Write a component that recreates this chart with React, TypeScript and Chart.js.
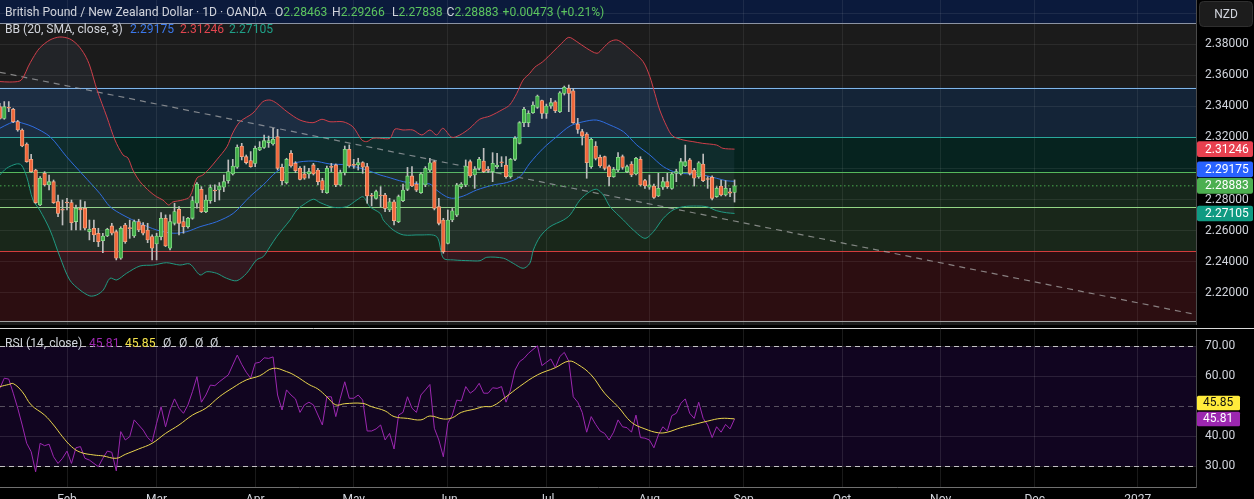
import React, { useEffect, useRef } from "react";
import { Chart, registerables } from "chart.js";

Chart.register(...registerables);

// ---------------- DATA ----------------
const opens = [
  2.3398, 2.3323, 2.3390, 2.3381, 2.3302, 2.3248, 2.3158, 2.3059, 2.2990, 2.2765,
  2.2969, 2.2894, 2.2915, 2.2787, 2.2735, 2.2782, 2.2780, 2.2658, 2.2744, 2.2744,
  2.2593, 2.2615, 2.2583, 2.2535, 2.2565, 2.2630, 2.2593, 2.2422, 2.2636, 2.2617,
  2.2565, 2.2658, 2.2636, 2.2604, 2.2561, 2.2514, 2.2561, 2.2679, 2.2486, 2.2647,
  2.2737, 2.2658, 2.2625, 2.2679, 2.2776, 2.2866, 2.2722, 2.2793, 2.2857, 2.2862,
  2.2879, 2.2922, 2.2965, 2.3008, 2.3145, 2.3076, 2.3051, 2.3033, 2.3119, 2.3136,
  2.3167, 2.3158, 2.3205, 2.3008, 2.2909, 2.3098, 2.3033, 2.3001, 2.2965, 2.2965,
  2.3023, 2.2990, 2.2922, 2.2844, 2.3010, 2.3023, 2.2894, 2.2973, 2.3124, 2.3023,
  2.3023, 2.3038, 2.3012, 2.2825, 2.2808, 2.2829, 2.2829, 2.2733, 2.2786, 2.2657,
  2.2793, 2.2866, 2.2952, 2.2900, 2.2844, 2.2894, 2.2990, 2.3044, 2.2754, 2.2668,
  2.2518, 2.2668, 2.2700, 2.2883, 2.2894, 2.3044, 2.2958, 2.3001, 2.3048, 2.2992,
  2.2980, 2.3012, 2.3038, 2.3022, 2.2947, 2.3059, 2.3162, 2.3295, 2.3295, 2.3360,
  2.3394, 2.3437, 2.3355, 2.3402, 2.3430, 2.3366, 2.3484, 2.3516, 2.3501, 2.3287,
  2.3237, 2.3222, 2.3012, 2.3145, 2.3072, 2.3076, 2.3012, 2.2947, 2.2990, 2.3076,
  2.2980, 2.3029, 2.2965, 2.3059, 2.2922, 2.2879, 2.2887, 2.2823, 2.2879, 2.2915,
  2.2872, 2.2969, 2.2965, 2.3016, 2.3055, 2.2990, 2.2947, 2.3029, 2.2931, 2.2943,
  2.2819, 2.2887, 2.2829, 2.2849, 2.28463,
];
const highs = [
  2.3420, 2.3431, 2.3431, 2.3388, 2.3310, 2.3255, 2.3165, 2.3091, 2.2995, 2.2948,
  2.2980, 2.2958, 2.2926, 2.2829, 2.2797, 2.2808, 2.2797, 2.2765, 2.2797, 2.2787,
  2.2668, 2.2668, 2.2615, 2.2583, 2.2615, 2.2647, 2.2604, 2.2625, 2.2647, 2.2668,
  2.2668, 2.2673, 2.2651, 2.2647, 2.2572, 2.2583, 2.2716, 2.2701, 2.2701, 2.2776,
  2.2754, 2.2690, 2.2686, 2.2819, 2.2909, 2.2883, 2.2829, 2.2894, 2.2894, 2.2909,
  2.2958, 2.3055, 2.3059, 2.3152, 2.3162, 2.3087, 2.3109, 2.3145, 2.3173, 2.3216,
  2.3209, 2.3259, 2.3252, 2.3029, 2.3066, 2.3115, 2.3044, 2.3012, 2.3016, 2.3001,
  2.3033, 2.3001, 2.2937, 2.3016, 2.3033, 2.3029, 2.2990, 2.3145, 2.3152, 2.3059,
  2.3066, 2.3044, 2.3033, 2.2840, 2.2861, 2.2883, 2.2840, 2.2808, 2.2797, 2.2829,
  2.2900, 2.3007, 2.3012, 2.2915, 2.2973, 2.3012, 2.3065, 2.3050, 2.2808, 2.2679,
  2.2733, 2.2743, 2.2904, 2.2909, 2.3055, 2.3055, 2.3012, 2.3072, 2.3130, 2.3012,
  2.3102, 2.3098, 2.3076, 2.3076, 2.3065, 2.3205, 2.3302, 2.3394, 2.3372, 2.3430,
  2.3473, 2.3441, 2.3415, 2.3452, 2.3437, 2.3495, 2.3531, 2.3538, 2.3516, 2.3323,
  2.3252, 2.3231, 2.3194, 2.3173, 2.3087, 2.3080, 2.3022, 2.3007, 2.3102, 2.3087,
  2.3022, 2.3044, 2.3072, 2.3076, 2.2930, 2.2958, 2.2900, 2.2969, 2.2943, 2.2969,
  2.2973, 2.2995, 2.3065, 2.3151, 2.3065, 2.3001, 2.3044, 2.3093, 2.2947, 2.2952,
  2.2883, 2.2926, 2.2922, 2.2872, 2.29266,
];
const lows = [
  2.3317, 2.3317, 2.3366, 2.3295, 2.3240, 2.3140, 2.3040, 2.2975, 2.2775, 2.2760,
  2.2887, 2.2862, 2.2775, 2.2690, 2.2636, 2.2733, 2.2604, 2.2604, 2.2604, 2.2604,
  2.2540, 2.2529, 2.2497, 2.2458, 2.2561, 2.2572, 2.2411, 2.2415, 2.2518, 2.2550,
  2.2556, 2.2593, 2.2572, 2.2522, 2.2411, 2.2411, 2.2540, 2.2497, 2.2475, 2.2636,
  2.2572, 2.2583, 2.2615, 2.2673, 2.2744, 2.2716, 2.2716, 2.2776, 2.2787, 2.2797,
  2.2851, 2.2905, 2.2958, 2.3001, 2.3055, 2.3029, 2.3008, 2.3012, 2.3115, 2.3130,
  2.3136, 2.3151, 2.2990, 2.2894, 2.2900, 2.3008, 2.2973, 2.2926, 2.2930, 2.2937,
  2.2958, 2.2894, 2.2844, 2.2840, 2.2980, 2.2883, 2.2887, 2.2958, 2.3008, 2.3001,
  2.2990, 2.2969, 2.2776, 2.2759, 2.2803, 2.2754, 2.2722, 2.2722, 2.2636, 2.2651,
  2.2786, 2.2857, 2.2883, 2.2851, 2.2840, 2.2883, 2.2980, 2.2733, 2.2636, 2.2454,
  2.2514, 2.2657, 2.2690, 2.2872, 2.2883, 2.2943, 2.2872, 2.2990, 2.2973, 2.2973,
  2.2915, 2.3001, 2.3012, 2.2937, 2.2937, 2.3050, 2.3158, 2.3269, 2.3269, 2.3355,
  2.3387, 2.3323, 2.3323, 2.3387, 2.3360, 2.3360, 2.3473, 2.3366, 2.3291, 2.3226,
  2.3151, 2.2937, 2.3001, 2.3055, 2.3007, 2.2990, 2.2887, 2.2943, 2.2980, 2.2995,
  2.2973, 2.2947, 2.2958, 2.2887, 2.2872, 2.2866, 2.2808, 2.2819, 2.2866, 2.2872,
  2.2866, 2.2915, 2.2958, 2.3012, 2.2958, 2.2887, 2.2937, 2.2915, 2.2872, 2.2797,
  2.2814, 2.2823, 2.2823, 2.2819, 2.27838,
];
const closes = [
  2.3323, 2.3398, 2.3388, 2.3302, 2.3248, 2.3145, 2.3044, 2.2980, 2.2780, 2.2937,
  2.2894, 2.2915, 2.2780, 2.2711, 2.2731, 2.2778, 2.2651, 2.2744, 2.2733, 2.2615,
  2.2608, 2.2572, 2.2529, 2.2565, 2.2608, 2.2583, 2.2422, 2.2615, 2.2529, 2.2613,
  2.2658, 2.2604, 2.2583, 2.2540, 2.2486, 2.2565, 2.2679, 2.2501, 2.2658, 2.2722,
  2.2647, 2.2625, 2.2679, 2.2793, 2.2900, 2.2722, 2.2797, 2.2877, 2.2855, 2.2887,
  2.2915, 2.2980, 2.3016, 2.3136, 2.3076, 2.3038, 2.3012, 2.3130, 2.3136, 2.3179,
  2.3179, 2.3188, 2.3001, 2.2922, 2.3059, 2.3016, 2.2986, 2.2930, 2.2937, 2.2980,
  2.2965, 2.2915, 2.2862, 2.3001, 2.3007, 2.2894, 2.2973, 2.3124, 2.3016, 2.3020,
  2.3038, 2.3008, 2.2823, 2.2821, 2.2851, 2.2823, 2.2743, 2.2786, 2.2664, 2.2819,
  2.2861, 2.2952, 2.2887, 2.2861, 2.2965, 2.3001, 2.3037, 2.2743, 2.2647, 2.2464,
  2.2668, 2.2728, 2.2894, 2.2900, 2.3016, 2.2952, 2.2995, 2.3059, 2.2980, 2.2988,
  2.3033, 2.3022, 2.3036, 2.2947, 2.3059, 2.3194, 2.3295, 2.3381, 2.3355, 2.3409,
  2.3467, 2.3355, 2.3402, 2.3424, 2.3372, 2.3488, 2.3523, 2.3484, 2.3295, 2.3252,
  2.3209, 2.3037, 2.3188, 2.3065, 2.3016, 2.3001, 2.2947, 2.2995, 2.3072, 2.3007,
  2.3012, 2.2958, 2.3065, 2.2894, 2.2887, 2.2894, 2.2814, 2.2872, 2.2915, 2.2883,
  2.2965, 2.2980, 2.3044, 2.3044, 2.2969, 2.2937, 2.3037, 2.2922, 2.2929, 2.2808,
  2.2872, 2.2829, 2.2872, 2.2841, 2.28883,
];

const bbUpperIdx = [
  0, 2.2, 4.5, 5.4, 6.3, 7.4, 8.9, 11.2, 13.4, 15.6, 17.4, 19.0, 20.1, 21.7, 23.9, 25.7, 27.5, 28.6, 29.7, 31.3,
  33.5, 35.0, 36.4, 37.7, 38.6, 40.8, 42.4, 44.0, 45.3, 46.9, 48.4, 50.7, 52.0, 53.6, 56.5, 58.7, 60.3, 61.8, 64.1, 67.0,
  69.9, 71.9, 73.7, 76.6, 78.8, 80.8, 81.9, 83.3, 84.8, 87.1, 88.2, 90.0, 92.2, 94.2, 96.0, 97.5, 98.9, 100.9, 102.7, 104.9,
  107.1, 109.4, 112.3, 113.8, 115.4, 116.8, 118.3, 119.4, 121.2, 123.5, 125.4, 127.0, 128.8, 131.0, 133.3, 134.6, 136.2, 137.7, 139.1, 141.3,
  143.6, 145.1, 146.2, 147.3, 148.9, 150.2, 152.5, 154.7, 156.9, 160.0, 161.4, 164,
];
const bbUpper = [
  2.3560, 2.3557, 2.3564, 2.3596, 2.3654, 2.3712, 2.3776, 2.3828, 2.3847, 2.3835, 2.3795, 2.3731, 2.3660, 2.3506, 2.3332, 2.3184, 2.3087, 2.3068, 2.2990, 2.2915,
  2.2851, 2.2818, 2.2797, 2.2765, 2.2784, 2.2797, 2.2818, 2.2939, 2.2958, 2.3003, 2.3055, 2.3140, 2.3229, 2.3301, 2.3357, 2.3430, 2.3441, 2.3420, 2.3366, 2.3312,
  2.3295, 2.3317, 2.3301, 2.3301, 2.3269, 2.3184, 2.3173, 2.3195, 2.3195, 2.3195, 2.3254, 2.3248, 2.3248, 2.3216, 2.3248, 2.3216, 2.3259, 2.3201, 2.3216, 2.3259,
  2.3317, 2.3338, 2.3381, 2.3409, 2.3484, 2.3570, 2.3613, 2.3652, 2.3688, 2.3752, 2.3806, 2.3845, 2.3817, 2.3774, 2.3742, 2.3774, 2.3817, 2.3828, 2.3806, 2.3752,
  2.3688, 2.3591, 2.3484, 2.3377, 2.3269, 2.3209, 2.3184, 2.3173, 2.3162, 2.3151, 2.3130, 2.31246,
];
const bbMiddleIdx = [
  0, 2.2, 3.7, 5.2, 7.4, 11.2, 14.9, 18.6, 22.3, 24.6, 27.5, 31.3, 35.0, 38.7, 41.7, 44.7, 48.4, 52.1, 55.8, 58.8,
  61.8, 65.5, 70.0, 73.7, 77.4, 81.9, 84.9, 86.3, 90.1, 93.8, 96.0, 97.5, 99.7, 101.2, 103.5, 106.4, 110.2, 113.1, 116.1, 118.3,
  121.3, 124.3, 127.3, 130.2, 133.2, 136.2, 139.2, 142.2, 145.1, 148.1, 151.1, 154.1, 157.0, 160.0, 162.2, 164,
];
const bbMiddle = [
  2.3259, 2.3291, 2.3301, 2.3291, 2.3269, 2.3205, 2.3076, 2.2958, 2.2840, 2.2754, 2.2700, 2.2647, 2.2604, 2.2583, 2.2593, 2.2625, 2.2657, 2.2711, 2.2818, 2.2894,
  2.2979, 2.3034, 2.3048, 2.3029, 2.3023, 2.2990, 2.2958, 2.2947, 2.2915, 2.2900, 2.2900, 2.2861, 2.2818, 2.2808, 2.2823, 2.2861, 2.2894, 2.2909, 2.2947, 2.3034,
  2.3130, 2.3205, 2.3274, 2.3301, 2.3312, 2.3280, 2.3237, 2.3151, 2.3087, 2.3012, 2.2973, 2.2965, 2.2958, 2.2937, 2.2921, 2.29175,
];
const bbLowerIdx = [
  0, 1.5, 3.7, 4.8, 6.0, 7.4, 8.9, 11.2, 13.4, 15.6, 17.9, 20.1, 21.6, 23.1, 24.6, 26.1, 28.3, 31.3, 34.3, 37.2,
  40.2, 42.4, 44.7, 46.2, 48.4, 50.6, 52.9, 55.1, 57.3, 58.8, 60.3, 61.8, 63.3, 64.8, 66.3, 67.7, 70.0, 71.5, 74.4, 77.4,
  79.7, 81.1, 82.6, 84.9, 85.6, 87.8, 90.1, 93.8, 97.5, 99.0, 101.2, 104.9, 107.2, 108.7, 112.4, 114.6, 116.8, 118.3, 119.1, 120.6,
  122.8, 125.8, 127.3, 129.5, 131.7, 133.2, 134.7, 136.2, 139.2, 141.4, 144.0, 145.9, 148.1, 150.3, 152.6, 155.5, 157.8, 160.0, 162.2, 164,
];
const bbLower = [
  2.2958, 2.3001, 2.3029, 2.3023, 2.2947, 2.2797, 2.2733, 2.2604, 2.2432, 2.2282, 2.2217, 2.2179, 2.2185, 2.2217, 2.2293, 2.2282, 2.2325, 2.2372, 2.2378, 2.2393,
  2.2378, 2.2385, 2.2314, 2.2335, 2.2325, 2.2293, 2.2277, 2.2325, 2.2411, 2.2432, 2.2496, 2.2561, 2.2615, 2.2668, 2.2733, 2.2765, 2.2802, 2.2780, 2.2750, 2.2754,
  2.2797, 2.2818, 2.2754, 2.2711, 2.2668, 2.2604, 2.2572, 2.2572, 2.2561, 2.2422, 2.2411, 2.2406, 2.2406, 2.2428, 2.2422, 2.2389, 2.2357, 2.2389, 2.2475, 2.2561,
  2.2625, 2.2668, 2.2701, 2.2797, 2.2851, 2.2866, 2.2829, 2.2754, 2.2668, 2.2604, 2.2550, 2.2593, 2.2679, 2.2733, 2.2754, 2.2758, 2.2754, 2.2728, 2.2715, 2.27105,
];

const rsiIdx = [
  0, 1, 2, 3, 4, 5, 6, 7, 8, 9, 10, 11, 12, 13, 14, 15, 16, 17, 18, 19,
  20, 22, 23, 24, 25, 26, 27, 28, 29, 30, 31, 32, 33, 34, 35, 36, 37, 38, 39, 40,
  41, 42, 43, 44, 45, 46, 47, 48, 49, 51, 52, 53, 54, 55, 56, 57, 58, 59, 60, 61,
  62, 63, 64, 65, 66, 67, 68, 69, 70, 72, 73, 74, 75, 76, 77, 78, 79, 80, 81, 82,
  83, 84, 85, 86, 87, 88, 89, 90, 91, 92, 93, 94, 95, 96, 97, 98, 99, 100, 101, 102,
  103, 104, 105, 106, 107, 108, 109, 110, 111, 112, 113, 114, 115, 116, 117, 118, 120, 121, 122, 123,
  124, 125, 126, 127, 128, 129, 130, 131, 132, 133, 134, 135, 136, 137, 138, 139, 140, 141, 142, 143,
  144, 145, 146, 147, 148, 149, 150, 151, 152, 153, 154, 155, 156, 157, 158, 159, 160, 161, 162, 163, 164,
];
const rsiValues = [
  56.0, 59.4, 59.1, 54.4, 49.4, 43.8, 37.7, 34.9, 28.2, 37.7, 36.9, 37.4, 33.2, 31.0, 32.7, 35.1, 31.0, 36.2, 36.6, 32.7,
  32.1, 29.9, 32.7, 35.1, 34.7, 28.5, 41.6, 38.8, 39.9, 45.5, 43.8, 42.1, 39.6, 38.2, 44.4, 49.9, 43.2, 48.8, 52.5, 49.4,
  47.7, 50.5, 54.9, 59.9, 51.4, 53.8, 57.1, 56.9, 58.2, 60.5, 63.8, 67.1, 64.0, 61.4, 59.4, 64.4, 64.7, 66.2, 66.0, 66.5,
  53.8, 48.8, 55.5, 53.8, 52.5, 48.0, 50.5, 51.4, 50.5, 43.8, 53.2, 53.2, 46.6, 52.7, 58.2, 52.7, 52.7, 53.8, 52.1, 41.8,
  41.8, 42.5, 43.8, 38.8, 41.0, 35.8, 47.1, 48.0, 53.2, 49.4, 48.0, 53.8, 55.5, 57.3, 42.7, 38.8, 33.2, 44.4, 47.1, 52.1,
  51.8, 56.6, 54.4, 55.5, 57.7, 54.4, 54.4, 56.2, 56.0, 56.6, 51.4, 55.5, 62.1, 64.9, 66.0, 67.7, 70.2, 63.6, 64.7, 65.8,
  62.9, 66.6, 68.0, 65.1, 53.2, 51.4, 48.0, 41.4, 46.6, 44.0, 41.8, 41.0, 38.8, 41.4, 45.5, 43.2, 42.9, 41.4, 47.1, 39.6,
  39.4, 38.8, 36.2, 40.5, 43.2, 41.8, 46.9, 47.7, 51.0, 52.5, 47.7, 46.0, 51.4, 46.0, 43.8, 39.6, 43.2, 41.4, 44.0, 42.5, 45.81,
];
const rsiMaIdx = [
  0, 2, 3, 5, 7, 10, 12, 14, 16, 18, 21, 23, 26, 28, 31, 34, 37, 40, 43, 46,
  49, 52, 55, 58, 61, 64, 66, 69, 71, 73, 75, 77, 81, 83, 86, 88, 91, 94, 96, 99,
  101, 103, 106, 108, 110, 113, 116, 120, 124, 127, 129, 132, 135, 138, 141, 144, 147, 149, 152, 155,
  158, 161, 164,
];
const rsiMa = [
  56.6, 57.3, 57.6, 54.9, 50.5, 47.1, 43.8, 39.9, 36.6, 34.7, 33.8, 33.5, 32.7, 34.0, 35.8, 37.7, 41.0, 43.8, 47.1, 49.4,
  53.2, 56.2, 58.8, 60.2, 62.7, 61.6, 60.2, 57.3, 55.8, 53.2, 50.5, 50.9, 51.0, 49.9, 48.5, 46.6, 46.0, 45.5, 46.8, 45.8,
  46.2, 48.0, 49.1, 49.9, 50.1, 53.2, 56.6, 60.5, 62.9, 65.1, 64.0, 60.5, 54.4, 49.9, 44.7, 42.5, 41.2, 41.4, 42.9, 44.0,
  45.1, 46.0, 45.85,
];

const trendIdx = [0, 267];
const trendValues = [2.362, 2.2059];

const levelPrices = [2.39353, 2.35211, 2.32016, 2.29755, 2.27507, 2.24667, 2.20145];

const priceTicks = [2.22, 2.24, 2.26, 2.28, 2.3, 2.32, 2.34, 2.36, 2.38, 2.4];
const rsiTicks = [30, 40, 60, 70];
const rsiBands = [70, 50, 30];

const monthIdx = [15, 35, 57, 79, 100, 122, 145, 166, 188, 210, 231, 254];
const monthLabels = ["Feb", "Mar", "Apr", "May", "Jun", "Jul", "Aug", "Sep", "Oct", "Nov", "Dec", "2027"];

const titleText = "British Pound / New Zealand Dollar · 1D · OANDA";
const currency = "NZD";

// ---------------- VIEW RANGES & STYLES ----------------
const X_MIN = 0.045;
const X_MAX = 267.0;
const PRICE_MIN = 2.19919;
const PRICE_MAX = 2.40853;
const RSI_MIN = 23.13;
const RSI_MAX = 75.8;

const FONT = 'Roboto, "Noto Sans", "DejaVu Sans", sans-serif';
const TEXT = "#d1d4dc";
const GREEN_TXT = "#5cc45f";
const GRID = "rgba(255,255,255,0.075)";
const AXIS_LINE = "#4a4a4a";
const UP_FILL = "#41ae48";
const UP_EDGE = "#8fe08f";
const DOWN_FILL = "#ef673b";
const DOWN_EDGE = "#f8ae8c";
const WICK = "#bdbdbd";
const BB_UP_C = "#cf3f4a";
const BB_MID_C = "#2f6de0";
const BB_LOW_C = "#1c9a7f";
const BB_FILL = "rgba(130,160,220,0.075)";
const RSI_C = "#9c27b0";
const RSI_MA_C = "#e8d44d";

const zoneFills = ["#0b1a3c", null, "#142437", "#06231f", "#16271b", "#19271a", "#2c0e11"];
const levelColors = ["#8b93a3", "#7fb6ea", "#29a89b", "#56b85c", "#93d685", "#d33c3c", "#a0a0a0"];

const fmt5 = (v: number) => v.toFixed(5);
const fmt2 = (v: number) => v.toFixed(2);
const last = (a: number[]) => a[a.length - 1];

function roundBox(ctx: any, x: number, y: number, w: number, h: number, r: number) {
  ctx.beginPath();
  if (ctx.roundRect) ctx.roundRect(x, y, w, h, r);
  else ctx.rect(x, y, w, h);
}

let headerSize = 13;
function computeHeaderSize(ctx: any) {
  ctx.font = `13px ${FONT}`;
  const w = ctx.measureText(titleText).width;
  headerSize = Math.max(10, Math.min(15, (13 * 262) / w));
}

function drawRuns(ctx: any, runs: any[], y: number) {
  let cursor = 0;
  ctx.textBaseline = "middle";
  ctx.textAlign = "left";
  for (const r of runs) {
    const x = r.x !== undefined ? Math.max(r.x, cursor + 4) : cursor;
    ctx.fillStyle = r.color;
    ctx.fillText(r.text, x, y);
    cursor = x + ctx.measureText(r.text).width;
  }
}

function placeLabels(items: any[], anchorIndex: number, gap: number) {
  const anchor = items[anchorIndex];
  anchor.py = anchor.y;
  const above = items.filter((it, i) => i !== anchorIndex && it.y <= anchor.y).sort((a, b) => b.y - a.y);
  const below = items.filter((it, i) => i !== anchorIndex && it.y > anchor.y).sort((a, b) => a.y - b.y);
  let limit = anchor.py;
  for (const it of above) {
    it.py = Math.min(it.y, limit - gap);
    limit = it.py;
  }
  limit = anchor.py;
  for (const it of below) {
    it.py = Math.max(it.y, limit + gap);
    limit = it.py;
  }
}

// remove Chart.js' automatic label padding so the plot area fills the canvas exactly
const noPadY = (width: number) => (s: any) => {
  s.width = width;
  s.paddingTop = 0;
  s.paddingBottom = 0;
};
const noPadX = (height: number) => (s: any) => {
  s.height = height;
  s.paddingLeft = 0;
  s.paddingRight = 0;
};

const mainDecor = {
  id: "mainDecor",
  beforeDraw(chart: any) {
    const { ctx, chartArea: a } = chart;
    const y = chart.scales.y;
    ctx.save();
    ctx.fillStyle = "#000";
    ctx.fillRect(0, 0, chart.width, chart.height);
    ctx.fillStyle = "#1b1b1b";
    ctx.fillRect(a.left, a.top, a.right - a.left, a.bottom - a.top);
    const edges = [PRICE_MAX, ...levelPrices];
    for (let i = 0; i < zoneFills.length; i++) {
      const f = zoneFills[i];
      if (!f) continue;
      const y1 = y.getPixelForValue(edges[i]);
      const y2 = y.getPixelForValue(edges[i + 1]);
      ctx.fillStyle = f;
      ctx.fillRect(a.left, Math.min(y1, y2), a.right - a.left, Math.abs(y2 - y1));
    }
    ctx.restore();
  },
  beforeDatasetsDraw(chart: any) {
    const { ctx, chartArea: a } = chart;
    const y = chart.scales.y;
    ctx.save();
    ctx.lineWidth = 1;
    levelPrices.forEach((p, i) => {
      const py = Math.round(y.getPixelForValue(p)) + 0.5;
      ctx.strokeStyle = levelColors[i];
      ctx.beginPath();
      ctx.moveTo(a.left, py);
      ctx.lineTo(a.right, py);
      ctx.stroke();
    });
    ctx.restore();
  },
  afterDraw(chart: any) {
    const { ctx, chartArea: a } = chart;
    const y = chart.scales.y;
    ctx.save();
    computeHeaderSize(ctx);
    ctx.font = `${headerSize}px ${FONT}`;
    const n = closes.length;
    const o = opens[n - 1], h = highs[n - 1], l = lows[n - 1], c = closes[n - 1];
    const ch = c - closes[n - 2];
    const pct = (ch / closes[n - 2]) * 100;
    const sign = ch >= 0 ? "+" : "−";
    drawRuns(
      ctx,
      [
        { text: titleText, color: TEXT, x: 5 },
        { text: "O", color: TEXT, x: 275 },
        { text: fmt5(o), color: GREEN_TXT },
        { text: "H", color: TEXT, x: 332 },
        { text: fmt5(h), color: GREEN_TXT },
        { text: "L", color: TEXT, x: 392 },
        { text: fmt5(l), color: GREEN_TXT },
        { text: "C", color: TEXT, x: 446 },
        { text: fmt5(c), color: GREEN_TXT },
        { text: `${sign}${Math.abs(ch).toFixed(5)} (${sign}${Math.abs(pct).toFixed(2)}%)`, color: GREEN_TXT, x: 502 },
      ],
      12.5
    );
    drawRuns(
      ctx,
      [
        { text: "BB (20, SMA, close, 3)", color: TEXT, x: 5 },
        { text: fmt5(last(bbMiddle)), color: "#3b78ec", x: 130 },
        { text: fmt5(last(bbUpper)), color: "#e0454f", x: 180 },
        { text: fmt5(last(bbLower)), color: "#1fa088", x: 229 },
      ],
      29.5
    );

    const items = [
      { v: last(bbUpper), bg: "#e8404f", fg: "#ffffff" },
      { v: last(bbMiddle), bg: "#2962ff", fg: "#ffffff" },
      { v: c, bg: "#4caf50", fg: "#ffffff" },
      { v: last(bbLower), bg: "#0f9a82", fg: "#ffffff" },
    ].map((it) => ({ ...it, y: y.getPixelForValue(it.v), py: 0 }));
    placeLabels(items, 2, 16.5);
    ctx.font = `12px ${FONT}`;
    ctx.textBaseline = "middle";
    ctx.textAlign = "left";
    for (const it of items) {
      ctx.fillStyle = it.bg;
      roundBox(ctx, a.right + 1, it.py - 7.8, 56, 15.6, 2);
      ctx.fill();
      ctx.fillStyle = it.fg;
      ctx.fillText(fmt5(it.v), a.right + 9, it.py + 0.5);
    }

    ctx.fillStyle = "#1c1c1c";
    roundBox(ctx, a.right + 3.5, 1.5, 53, 25, 4);
    ctx.fill();
    ctx.strokeStyle = "#2f2f2f";
    ctx.lineWidth = 1;
    ctx.stroke();
    ctx.fillStyle = TEXT;
    ctx.textAlign = "center";
    ctx.fillText(currency, a.right + 30, 14.5);
    ctx.restore();
  },
};

const rsiDecor = {
  id: "rsiDecor",
  beforeDraw(chart: any) {
    const { ctx, chartArea: a } = chart;
    const y = chart.scales.y;
    ctx.save();
    ctx.fillStyle = "#000";
    ctx.fillRect(0, 0, chart.width, chart.height);
    const y70 = y.getPixelForValue(rsiBands[0]);
    const y30 = y.getPixelForValue(rsiBands[2]);
    ctx.fillStyle = "#110520";
    ctx.fillRect(a.left, y70, a.right - a.left, y30 - y70);
    ctx.strokeStyle = "#d9d9d9";
    ctx.lineWidth = 1;
    ctx.beginPath();
    ctx.moveTo(0, a.top - 0.5);
    ctx.lineTo(chart.width, a.top - 0.5);
    ctx.stroke();
    ctx.restore();
  },
  beforeDatasetsDraw(chart: any) {
    const { ctx, chartArea: a } = chart;
    const y = chart.scales.y;
    ctx.save();
    ctx.lineWidth = 1;
    ctx.setLineDash([5, 4]);
    rsiBands.forEach((v, i) => {
      const py = Math.round(y.getPixelForValue(v)) + 0.5;
      ctx.strokeStyle = i === 1 ? "rgba(170,170,170,0.45)" : "rgba(225,225,225,0.85)";
      ctx.beginPath();
      ctx.moveTo(a.left, py);
      ctx.lineTo(a.right, py);
      ctx.stroke();
    });
    ctx.restore();
  },
  afterDraw(chart: any) {
    const { ctx, chartArea: a } = chart;
    const y = chart.scales.y;
    ctx.save();
    computeHeaderSize(ctx);
    ctx.font = `${headerSize}px ${FONT}`;
    const rv = last(rsiValues);
    const mv = last(rsiMa);
    drawRuns(
      ctx,
      [
        { text: "RSI (14, close)", color: TEXT, x: 5 },
        { text: fmt2(rv), color: RSI_C, x: 89 },
        { text: fmt2(mv), color: "#f2e04a", x: 125 },
        { text: "Ø", color: TEXT, x: 163 },
        { text: "Ø", color: TEXT, x: 179 },
        { text: "Ø", color: TEXT, x: 195 },
        { text: "Ø", color: TEXT, x: 210 },
      ],
      19
    );
    const items = [
      { v: mv, bg: "#ffeb3b", fg: "#111111" },
      { v: rv, bg: "#9c27b0", fg: "#ffffff" },
    ].map((it) => ({ ...it, y: y.getPixelForValue(it.v), py: 0 }));
    placeLabels(items, 1, 16);
    ctx.font = `12px ${FONT}`;
    ctx.textBaseline = "middle";
    ctx.textAlign = "left";
    for (const it of items) {
      ctx.fillStyle = it.bg;
      roundBox(ctx, a.right + 1, it.py - 7.3, 43, 14.6, 1.5);
      ctx.fill();
      ctx.fillStyle = it.fg;
      ctx.fillText(fmt2(it.v), a.right + 7, it.py + 0.5);
    }
    ctx.restore();
  },
};

const pts = (xs: number[], ys: number[]) => xs.map((x, i) => ({ x, y: ys[i] }));

function mainConfig(): any {
  const idx = opens.map((_, i) => i);
  const lastClose = last(closes);
  return {
    type: "line",
    data: {
      datasets: [
        {
          type: "line",
          label: "BB upper",
          data: pts(bbUpperIdx, bbUpper),
          borderColor: BB_UP_C,
          borderWidth: 1,
          pointRadius: 0,
          tension: 0.3,
          fill: { target: 2, above: BB_FILL, below: BB_FILL },
          order: 5,
        },
        {
          type: "line",
          label: "BB basis",
          data: pts(bbMiddleIdx, bbMiddle),
          borderColor: BB_MID_C,
          borderWidth: 1,
          pointRadius: 0,
          tension: 0.3,
          fill: false,
          order: 4,
        },
        {
          type: "line",
          label: "BB lower",
          data: pts(bbLowerIdx, bbLower),
          borderColor: BB_LOW_C,
          borderWidth: 1,
          pointRadius: 0,
          tension: 0.3,
          fill: false,
          order: 5,
        },
        {
          type: "line",
          label: "Trend",
          data: pts(trendIdx, trendValues),
          borderColor: "rgba(175,175,175,0.7)",
          borderWidth: 1.2,
          borderDash: [6, 5],
          pointRadius: 0,
          fill: false,
          order: 6,
        },
        {
          type: "line",
          label: "Last",
          data: [
            { x: X_MIN, y: lastClose },
            { x: X_MAX, y: lastClose },
          ],
          borderColor: "rgba(80,185,85,0.9)",
          borderWidth: 1,
          borderDash: [1.5, 2.5],
          pointRadius: 0,
          fill: false,
          order: 3,
        },
        {
          type: "bar",
          label: "Wicks",
          data: idx.map((i) => ({ x: i, y: [lows[i], highs[i]] })),
          backgroundColor: WICK,
          barThickness: 1,
          grouped: false,
          order: 1,
        },
        {
          type: "bar",
          label: "Bodies",
          data: idx.map((i) => ({ x: i, y: [opens[i], closes[i]] })),
          backgroundColor: (c: any) => (closes[c.dataIndex] >= opens[c.dataIndex] ? UP_FILL : DOWN_FILL),
          borderColor: (c: any) => (closes[c.dataIndex] >= opens[c.dataIndex] ? UP_EDGE : DOWN_EDGE),
          borderWidth: 0.8,
          borderSkipped: false,
          barThickness: 3.6,
          minBarLength: 1,
          grouped: false,
          order: 0,
        },
      ],
    },
    options: {
      responsive: false,
      animation: false,
      events: [],
      layout: { padding: 0 },
      plugins: { legend: { display: false }, tooltip: { enabled: false } },
      scales: {
        x: {
          type: "linear",
          position: "bottom",
          offset: false,
          min: X_MIN,
          max: X_MAX,
          afterBuildTicks: (s: any) => {
            s.ticks = monthIdx.map((v) => ({ value: v }));
          },
          afterFit: noPadX(0),
          ticks: { display: false },
          grid: { color: GRID, drawTicks: false, offset: false },
          border: { display: false },
        },
        y: {
          type: "linear",
          position: "right",
          min: PRICE_MIN,
          max: PRICE_MAX,
          afterBuildTicks: (s: any) => {
            s.ticks = priceTicks.map((v) => ({ value: v }));
          },
          afterFit: noPadY(58),
          ticks: {
            color: TEXT,
            font: { family: FONT, size: 12 },
            padding: 9,
            callback: (v: any) => Number(v).toFixed(5),
          },
          grid: { color: GRID, drawTicks: false },
          border: { display: true, color: AXIS_LINE },
        },
      },
    },
    plugins: [mainDecor],
  };
}

function rsiConfig(): any {
  return {
    type: "line",
    data: {
      datasets: [
        {
          label: "RSI",
          data: pts(rsiIdx, rsiValues),
          borderColor: RSI_C,
          borderWidth: 1,
          pointRadius: 0,
          tension: 0,
          fill: false,
          order: 2,
        },
        {
          label: "RSI MA",
          data: pts(rsiMaIdx, rsiMa),
          borderColor: RSI_MA_C,
          borderWidth: 1,
          pointRadius: 0,
          tension: 0.4,
          fill: false,
          order: 1,
        },
      ],
    },
    options: {
      responsive: false,
      animation: false,
      events: [],
      layout: { padding: { top: 4, left: 0, right: 0, bottom: 0 } },
      plugins: { legend: { display: false }, tooltip: { enabled: false } },
      scales: {
        x: {
          type: "linear",
          position: "bottom",
          offset: false,
          min: X_MIN,
          max: X_MAX,
          afterBuildTicks: (s: any) => {
            s.ticks = monthIdx.map((v) => ({ value: v }));
          },
          afterFit: noPadX(12),
          ticks: {
            color: TEXT,
            font: { family: FONT, size: 12 },
            padding: 6,
            maxRotation: 0,
            autoSkip: false,
            callback: (_v: any, i: number) => monthLabels[i],
          },
          grid: { color: "rgba(255,255,255,0.1)", drawTicks: false },
          border: { display: true, color: "#707070" },
        },
        y: {
          type: "linear",
          position: "right",
          min: RSI_MIN,
          max: RSI_MAX,
          afterBuildTicks: (s: any) => {
            s.ticks = rsiTicks.map((v) => ({ value: v }));
          },
          afterFit: noPadY(58),
          ticks: {
            color: TEXT,
            font: { family: FONT, size: 12 },
            padding: 9,
            callback: (v: any) => Number(v).toFixed(2),
          },
          grid: { color: "rgba(255,255,255,0.11)", drawTicks: false },
          border: { display: true, color: AXIS_LINE },
        },
      },
    },
    plugins: [rsiDecor],
  };
}

export default function App() {
  const mainRef = useRef<HTMLCanvasElement>(null);
  const rsiRef = useRef<HTMLCanvasElement>(null);

  useEffect(() => {
    document.body.style.margin = "0";
    document.body.style.background = "#000";
    const main = new Chart(mainRef.current as HTMLCanvasElement, mainConfig());
    const rsi = new Chart(rsiRef.current as HTMLCanvasElement, rsiConfig());
    return () => {
      main.destroy();
      rsi.destroy();
    };
  }, []);

  return (
    <div style={{ position: "fixed", left: 0, top: 0, width: 1254, height: 499, background: "#000", overflow: "hidden" }}>
      <canvas ref={mainRef} width={1254} height={325} style={{ display: "block", width: 1254, height: 325 }} />
      <canvas ref={rsiRef} width={1254} height={174} style={{ display: "block", width: 1254, height: 174 }} />
    </div>
  );
}
